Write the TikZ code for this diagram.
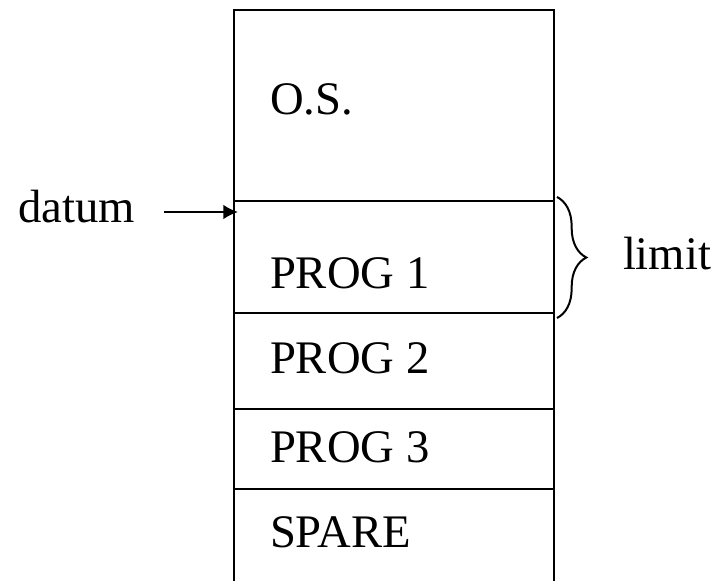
\documentclass[tikz,border=0pt]{standalone}
\usepackage{fontspec}
\setmainfont{Liberation Serif}
\usetikzlibrary{arrows.meta,decorations.pathreplacing}

\tikzset{every picture/.style={line width=1.5pt}}
\tikzset{memtext/.style={anchor=base west,inner sep=0.75pt,font=\fontsize{35}{42}\selectfont}}

\begin{document}
\begin{tikzpicture}[x=0.75pt,y=0.75pt,yscale=-1,xscale=1]
\useasboundingbox (0,0) rectangle (718,581);

%Memory column (open at the bottom)
\draw    (234,581) -- (234,10) -- (554,10) -- (554,581) ;
%Straight Lines
\draw    (234,201) -- (554,201) ;
%Straight Lines
\draw    (234,313) -- (554,313) ;
%Straight Lines
\draw    (234,409) -- (554,409) ;
%Straight Lines
\draw    (234,489) -- (554,489) ;

% Text Node
\draw (268,115) node [memtext] (os) {O.S.};
% Text Node
\draw (268,288) node [memtext] (prog1) {PROG 1};
% Text Node
\draw (268,373) node [memtext] (prog2) {PROG 2};
% Text Node
\draw (268,462) node [memtext] (prog3) {PROG 3};
% Text Node
\draw (268,547) node [memtext] (spare) {SPARE};
% Text Node
\draw (16,223) node [memtext] (datum) {datum};
% Text Node
\draw (621,270) node [memtext] (limit) {limit};

%Arrow to datum
\coordinate (dtip) at (238,212);
\draw [-{Latex[length=11pt,width=11pt]}, shorten <=20.5pt]  (datum.east |- dtip) -- (dtip) ;

%Brace for limit
\coordinate (ltop) at (557,197);
\coordinate (lbot) at (557,318);
\draw [decorate, decoration={brace, amplitude=22pt}]  (ltop) -- (lbot) ;

\end{tikzpicture}
\end{document}
